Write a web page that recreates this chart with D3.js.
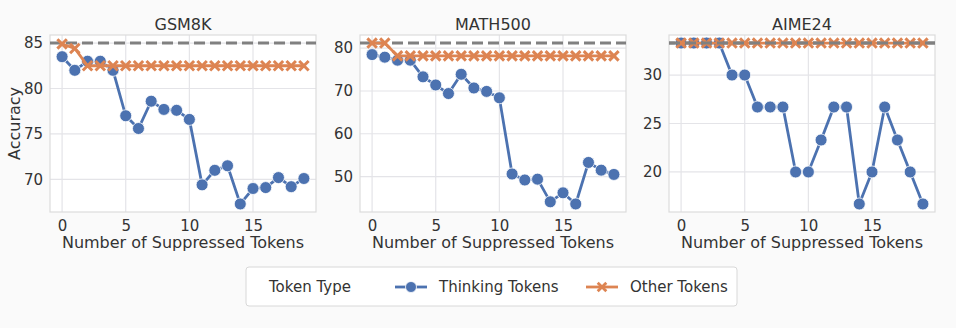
<!DOCTYPE html>
<html>
<head>
<meta charset="utf-8">
<script src="https://cdn.jsdelivr.net/npm/d3@7"></script>
<style>
  body { margin: 0; background: #fafafa; }
  svg { font-family: "DejaVu Sans", sans-serif; }
</style>
</head>
<body>
<svg id="chart" width="956" height="328"></svg>
<script>
// data
var steps = d3.range(0, 20);
var panelTitles = ["GSM8K", "MATH500", "AIME24"];
var gsmThinking = [83.5, 82.0, 83.0, 83.0, 82.0, 77.0, 75.6, 78.6, 77.7, 77.6, 76.6, 69.4, 71.0, 71.5, 67.3, 69.0, 69.1, 70.2, 69.2, 70.1];
var gsmOther = [84.9, 84.4, 82.5, 82.5, 82.5, 82.5, 82.5, 82.5, 82.5, 82.5, 82.5, 82.5, 82.5, 82.5, 82.5, 82.5, 82.5, 82.5, 82.5, 82.5];
var mathThinking = [78.5, 77.9, 77.2, 77.2, 73.3, 71.4, 69.4, 73.9, 70.7, 69.9, 68.4, 50.6, 49.2, 49.4, 44.1, 46.2, 43.6, 53.3, 51.5, 50.5];
var mathOther = [81.2, 81.2, 78.2, 78.2, 78.2, 78.2, 78.2, 78.2, 78.2, 78.2, 78.2, 78.2, 78.2, 78.2, 78.2, 78.2, 78.2, 78.2, 78.2, 78.2];
var aimeThinking = [33.3, 33.3, 33.3, 33.3, 30.0, 30.0, 26.7, 26.7, 26.7, 20.0, 20.0, 23.3, 26.7, 26.7, 16.7, 20.0, 26.7, 23.3, 20.0, 16.7];
var aimeOther = [33.3, 33.3, 33.3, 33.3, 33.3, 33.3, 33.3, 33.3, 33.3, 33.3, 33.3, 33.3, 33.3, 33.3, 33.3, 33.3, 33.3, 33.3, 33.3, 33.3];
var baselines = [85.0, 81.2, 33.3];
var yTicks = [[70, 75, 80, 85], [50, 60, 70, 80], [20, 25, 30]];
var xTicks = [0, 5, 10, 15];
var legendLabels = ["Thinking Tokens", "Other Tokens"];

var thinking = [gsmThinking, mathThinking, aimeThinking];
var other = [gsmOther, mathOther, aimeOther];

var blue = "#4c72b0", orange = "#dd8452";
var svg = d3.select("#chart");

var panelLeft = [50, 360, 669];
var plotW = 266, plotTop = 35, plotBottom = 212;

panelTitles.forEach(function (title, p) {
    var g = svg.append("g").attr("transform", "translate(" + panelLeft[p] + ",0)");

    var all = thinking[p].concat(other[p]).concat([baselines[p]]);
    var lo = d3.min(all), hi = d3.max(all), pad = (hi - lo) * 0.05;

    var x = d3.scaleLinear().domain([-0.95, 19.95]).range([0, plotW]);
    var y = d3.scaleLinear().domain([lo - pad, hi + pad]).range([plotBottom, plotTop]);

    g.append("rect")
        .attr("x", 0).attr("y", plotTop)
        .attr("width", plotW).attr("height", plotBottom - plotTop)
        .attr("fill", "#ffffff");

    // grid
    g.selectAll(".gx").data(xTicks).enter().append("line")
        .attr("x1", function (d) { return x(d); }).attr("x2", function (d) { return x(d); })
        .attr("y1", plotTop).attr("y2", plotBottom)
        .attr("stroke", "#e4e4e8").attr("stroke-width", 1.2);
    g.selectAll(".gy").data(yTicks[p]).enter().append("line")
        .attr("x1", 0).attr("x2", plotW)
        .attr("y1", function (d) { return y(d); }).attr("y2", function (d) { return y(d); })
        .attr("stroke", "#e4e4e8").attr("stroke-width", 1.2);

    g.append("rect")
        .attr("x", 0).attr("y", plotTop)
        .attr("width", plotW).attr("height", plotBottom - plotTop)
        .attr("fill", "none").attr("stroke", "#dcdcdc").attr("stroke-width", 1.2);

    // axes tick labels
    var xAxis = g.append("g").attr("transform", "translate(0," + plotBottom + ")")
        .call(d3.axisBottom(x).tickValues(xTicks).tickSize(0).tickPadding(8));
    var yAxis = g.append("g")
        .call(d3.axisLeft(y).tickValues(yTicks[p]).tickSize(0).tickPadding(7));
    [xAxis, yAxis].forEach(function (a) {
        a.select(".domain").remove();
        a.selectAll("text").attr("font-size", 15).attr("fill", "#333")
            .attr("font-family", "DejaVu Sans, sans-serif");
    });

    g.append("text")
        .attr("x", plotW / 2).attr("y", 30)
        .attr("text-anchor", "middle").attr("font-size", 16).attr("fill", "#333")
        .text(title);

    g.append("text")
        .attr("x", plotW / 2).attr("y", 248)
        .attr("text-anchor", "middle").attr("font-size", 16).attr("fill", "#333")
        .text("Number of Suppressed Tokens");

    if (p === 0) {
        g.append("text")
            .attr("transform", "translate(-30," + ((plotTop + plotBottom) / 2) + ") rotate(-90)")
            .attr("text-anchor", "middle").attr("font-size", 16).attr("fill", "#333")
            .text("Accuracy");
    }

    // baseline
    g.append("line")
        .attr("x1", 0).attr("x2", plotW)
        .attr("y1", y(baselines[p])).attr("y2", y(baselines[p]))
        .attr("stroke", "#808080").attr("stroke-width", 3)
        .attr("stroke-dasharray", "11,5");

    var line = d3.line()
        .x(function (d, i) { return x(steps[i]); })
        .y(function (d) { return y(d); });

    // thinking tokens
    g.append("path").datum(thinking[p])
        .attr("d", line).attr("fill", "none")
        .attr("stroke", blue).attr("stroke-width", 2.8);
    g.selectAll(".dot").data(thinking[p]).enter().append("circle")
        .attr("cx", function (d, i) { return x(steps[i]); })
        .attr("cy", function (d) { return y(d); })
        .attr("r", 6)
        .attr("fill", blue).attr("stroke", "#fff").attr("stroke-width", 0.8);

    // other tokens
    g.append("path").datum(other[p])
        .attr("d", line).attr("fill", "none")
        .attr("stroke", orange).attr("stroke-width", 2.8);
    g.selectAll(".xm").data(other[p]).enter().append("path")
        .attr("transform", function (d, i) { return "translate(" + x(steps[i]) + "," + y(d) + ")"; })
        .attr("d", d3.symbol().type(d3.symbolX).size(60))
        .attr("stroke", orange).attr("stroke-width", 3).attr("fill", "none");

    // baseline drawn again on top for AIME where it overlaps
    if (p === 2) {
        g.append("line")
            .attr("x1", 0).attr("x2", plotW)
            .attr("y1", y(baselines[p])).attr("y2", y(baselines[p]))
            .attr("stroke", "#808080").attr("stroke-width", 3)
            .attr("stroke-dasharray", "11,5");
    }
});

// legend
var lg = svg.append("g");
lg.append("rect")
    .attr("x", 246).attr("y", 267).attr("width", 491).attr("height", 39)
    .attr("rx", 3).attr("fill", "#fff").attr("stroke", "#d8d8d8").attr("stroke-width", 1);
lg.append("text").attr("x", 269).attr("y", 292)
    .attr("font-size", 15).attr("fill", "#333").text("Token Type");

var legendX = [395, 586];
legendLabels.forEach(function (lab, i) {
    var c = i === 0 ? blue : orange;
    var cx = legendX[i] + 16;
    lg.append("line")
        .attr("x1", legendX[i]).attr("x2", legendX[i] + 32)
        .attr("y1", 287).attr("y2", 287)
        .attr("stroke", c).attr("stroke-width", 2.8);
    if (i === 0) {
        lg.append("circle").attr("cx", cx).attr("cy", 287).attr("r", 5.5)
            .attr("fill", c).attr("stroke", "#fff").attr("stroke-width", 0.8);
    } else {
        lg.append("path").attr("transform", "translate(" + cx + ",287)")
            .attr("d", d3.symbol().type(d3.symbolX).size(50))
            .attr("stroke", c).attr("stroke-width", 2.8).attr("fill", "none");
    }
    lg.append("text").attr("x", legendX[i] + 44).attr("y", 292)
        .attr("font-size", 15).attr("fill", "#333").text(lab);
});
</script>
</body>
</html>
